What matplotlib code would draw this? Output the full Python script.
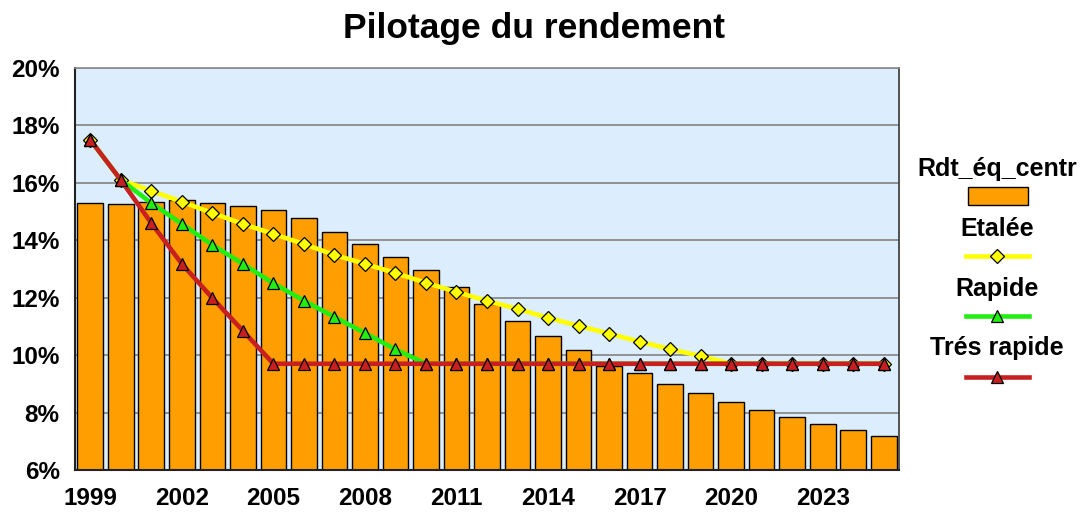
import matplotlib
matplotlib.use("Agg")
import matplotlib.pyplot as plt
from matplotlib.lines import Line2D
from matplotlib.patches import Rectangle
import numpy as np

plt.rcParams['font.family'] = ['Liberation Sans', 'DejaVu Sans']

years = list(range(1999, 2026))
rdt_eq_centr = [15.3, 15.25, 15.35, 15.4, 15.3, 15.2, 15.05, 14.78, 14.29, 13.87,
                13.42, 12.95, 12.38, 11.78, 11.19, 10.67, 10.18, 9.62, 9.38, 9.0,
                8.68, 8.37, 8.09, 7.85, 7.6, 7.39, 7.18]
etalee = [17.5, 16.1, 15.72, 15.34, 14.95, 14.57, 14.22, 13.87, 13.49, 13.18,
          12.86, 12.52, 12.2, 11.89, 11.61, 11.3, 11.02, 10.75, 10.47, 10.21,
          9.97, 9.7, 9.7, 9.7, 9.7, 9.7, 9.7]
rapide = [17.5, 16.1, 15.3, 14.57, 13.84, 13.18, 12.5, 11.9, 11.33, 10.77,
          10.2, 9.7, 9.7, 9.7, 9.7, 9.7, 9.7, 9.7, 9.7, 9.7,
          9.7, 9.7, 9.7, 9.7, 9.7, 9.7, 9.7]
tres_rapide = [17.5, 16.1, 14.6, 13.18, 11.99, 10.85, 9.7, 9.7, 9.7, 9.7,
               9.7, 9.7, 9.7, 9.7, 9.7, 9.7, 9.7, 9.7, 9.7, 9.7,
               9.7, 9.7, 9.7, 9.7, 9.7, 9.7, 9.7]
yticks = [6, 8, 10, 12, 14, 16, 18, 20]
xtick_years = [1999, 2002, 2005, 2008, 2011, 2014, 2017, 2020, 2023]

c_bar = '#FF9E00'
c_yel = '#FFFF00'
c_grn = '#22EE11'
c_red = '#C82020'

W, H = 1083, 513
fig = plt.figure(figsize=(W/100, H/100), dpi=100)
ax = fig.add_axes([75/W, 1-470/H, (899-75)/W, (470-68)/H])
ax.set_facecolor('#DCEEFD')

x = np.arange(len(years))
ax.bar(x, rdt_eq_centr, width=0.84, color=c_bar, edgecolor='black', linewidth=1.0, zorder=2)
ax.plot(x, etalee, color=c_yel, lw=3.3, marker='D', ms=7.5, mfc=c_yel, mec='black', mew=0.9, zorder=3)
ax.plot(x, rapide, color=c_grn, lw=3.3, marker='^', ms=9, mfc=c_grn, mec='black', mew=0.9, zorder=4)
ax.plot(x, tres_rapide, color=c_red, lw=3.3, marker='^', ms=9, mfc=c_red, mec='black', mew=0.9, zorder=5)

ax.set_ylim(6, 20)
ax.set_xlim(-0.5, len(years) - 0.5)
ax.set_yticks(yticks)
ax.set_yticklabels([f"{v}%" for v in yticks], fontsize=17.5, fontweight='bold')
ax.set_xticks([years.index(y) for y in xtick_years])
ax.set_xticklabels([str(y) for y in xtick_years], fontsize=17.5, fontweight='bold')
ax.tick_params(axis='y', length=0, pad=11)
ax.tick_params(axis='x', length=0, pad=12)
ax.yaxis.grid(True, color='#8A8A8A', lw=1.3, zorder=1)
ax.set_axisbelow(True)
ax.spines['top'].set_color('#8A8A8A')
ax.spines['top'].set_linewidth(1.2)
ax.spines['right'].set_color('#444444')
ax.spines['right'].set_linewidth(1.3)
for s in ['left', 'bottom']:
    ax.spines[s].set_color('#222222')
    ax.spines[s].set_linewidth(1.5)

fig.text(534/W, 1-38/H, 'Pilotage du rendement', ha='center', va='baseline',
         fontsize=25.5, fontweight='bold')

# Legend (label above handle, Excel style)
def fy(p):
    return 1 - p/H

lx = 997/W
fs_leg = 18
fig.text(lx, fy(176), 'Rdt_éq_centr', ha='center', va='baseline', fontsize=fs_leg, fontweight='bold')
fig.add_artist(Rectangle((968/W, fy(205)), 60/W, 18/H, transform=fig.transFigure,
                         facecolor=c_bar, edgecolor='black', linewidth=1.0))
entries = [('Etalée', 236, 256, c_yel, 'D', 7.5),
           ('Rapide', 296, 316, c_grn, '^', 9),
           ('Trés rapide', 355, 377, c_red, '^', 9)]
for lab, ty, ly, col, mk, ms in entries:
    fig.text(lx, fy(ty), lab, ha='center', va='baseline', fontsize=fs_leg, fontweight='bold')
    fig.add_artist(Line2D([966/W, 1029/W], [fy(ly), fy(ly)], transform=fig.transFigure,
                          color=col, lw=3.3))
    fig.add_artist(Line2D([lx], [fy(ly)], transform=fig.transFigure, marker=mk, ms=ms,
                          mfc=col, mec='black', mew=0.9, lw=0))

fig.savefig('out.png', dpi=100)
